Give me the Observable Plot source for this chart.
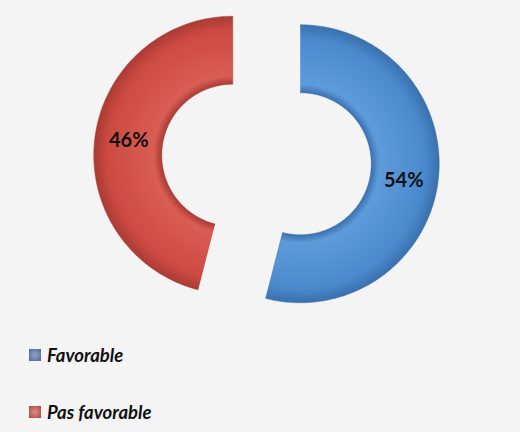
<!DOCTYPE html>
<html><head><meta charset="utf-8">
<script src="https://cdn.jsdelivr.net/npm/d3@7"></script>
<script src="https://cdn.jsdelivr.net/npm/@observablehq/plot@0.6"></script>
<style>
html,body{margin:0;padding:0;background:#f4f4f4;}
#wrap{position:relative;width:520px;height:432px;overflow:hidden;background:#f4f4f4;font-family:Lato,"Open Sans",sans-serif;}
#wrap svg{display:block;background:#f4f4f4;}
.leg{position:absolute;left:29px;display:flex;align-items:center;font-weight:bold;font-style:italic;font-size:18.5px;color:#111;line-height:20px;}
.sw{width:12px;height:12px;margin-right:6px;box-sizing:border-box;}
</style></head><body>
<div id="wrap"></div>
<script>
// Data
const categories = ["Favorable", "Pas favorable"];
const values = [54, 46];
const colors = ["#4a89cc", "#cc4a42"];
const lightColors = ["#5d9bdb", "#d95d53"];
const darkColors = ["#3a70ad", "#a93b34"];
const legendCenter = [355, 412];

// Geometry
const W = 520, H = 320;
const cx = 266, cy = 159, R = 139, r0 = 71, explode = 34;

const pie = d3.pie().sort(null).startAngle(0).endAngle(2 * Math.PI)(values);
const slices = pie.map((p, i) => {
  const mid = (p.startAngle + p.endAngle) / 2;
  const ox = cx + explode * Math.sin(mid), oy = cy - explode * Math.cos(mid);
  return {i, cat: categories[i], value: values[i], a0: p.startAngle, a1: p.endAngle, mid, ox, oy};
});

const pts = [];
for (const s of slices) {
  const n = 120;
  for (let k = 0; k <= n; k++) {
    const a = s.a0 + (s.a1 - s.a0) * k / n;
    pts.push({cat: s.cat, x: s.ox + R * Math.sin(a), y: s.oy - R * Math.cos(a)});
  }
  for (let k = n; k >= 0; k--) {
    const a = s.a0 + (s.a1 - s.a0) * k / n;
    pts.push({cat: s.cat, x: s.ox + r0 * Math.sin(a), y: s.oy - r0 * Math.cos(a)});
  }
}
const labels = slices.map(s => {
  const rm = (R + r0) / 2;
  const a = s.mid + (s.i === 0 ? 0.04 : 0.01);
  return {x: s.ox + rm * Math.sin(a), y: s.oy - rm * Math.cos(a), text: s.value + "%"};
});

const plot = Plot.plot({
  width: W, height: H,
  marginTop: 0, marginRight: 0, marginBottom: 0, marginLeft: 0,
  x: {domain: [0, W], range: [0, W], axis: null},
  y: {domain: [0, H], range: [0, H], axis: null},
  style: {background: "#f4f4f4", overflow: "visible"},
  marks: [
    ...slices.map((s, i) => Plot.line(pts.filter(d => d.cat === s.cat), {
      x: "x", y: "y", fill: `url(#g${i})`, stroke: darkColors[i], strokeWidth: 0.8, strokeOpacity: 0.6, curve: "linear"
    })),
    Plot.text(labels, {x: "x", y: "y", text: "text", fontSize: 20, fontWeight: "bold", fill: "#111",
      fontFamily: "Lato, 'Open Sans', sans-serif"})
  ]
});

const defs = d3.select(plot).insert("defs", ":first-child");
slices.forEach((s, i) => {
  const g = defs.append("radialGradient").attr("id", "g" + i)
    .attr("gradientUnits", "userSpaceOnUse")
    .attr("cx", s.ox).attr("cy", s.oy).attr("r", R);
  const f = r0 / R;
  [[0, colors[i]], [f, darkColors[i]], [f + 0.06, lightColors[i]], [0.9, colors[i]], [1, darkColors[i]]]
    .forEach(([o, c]) => g.append("stop").attr("offset", o).attr("stop-color", c));
});

const wrap = document.getElementById("wrap");
wrap.appendChild(plot);

const swatchInner = ["#8a9cc4", "#d88480"];
const swatchOuter = ["#4d6296", "#a8443f"];
categories.forEach((c, i) => {
  const d = document.createElement("div");
  d.className = "leg";
  d.style.top = (legendCenter[i] - 10) + "px";
  const sw = document.createElement("div");
  sw.className = "sw";
  sw.style.background = `radial-gradient(circle, ${swatchInner[i]} 15%, ${swatchOuter[i]} 100%)`;
  d.appendChild(sw);
  const t = document.createElement("span");
  t.textContent = c;
  d.appendChild(t);
  wrap.appendChild(d);
});
</script>
</body></html>
